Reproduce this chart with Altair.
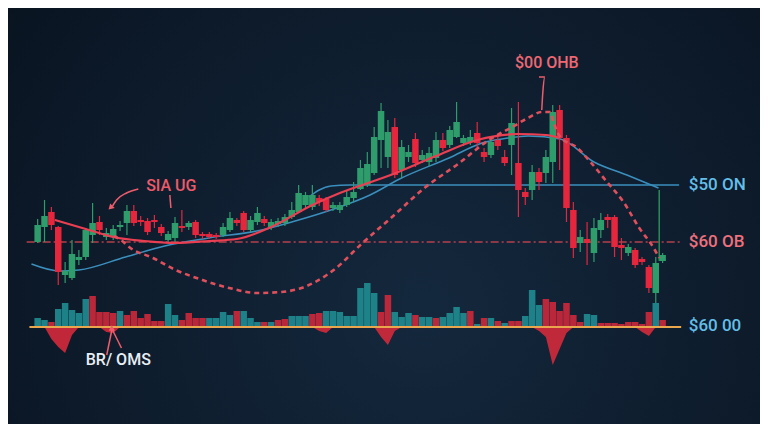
import altair as alt
import pandas as pd

# ---------------- data (price units, day index) ----------------
opens = [208, 223, 238, 223, 175, 172, 190, 193, 215, 228,
         213, 213, 223, 227, 239, 230, 229, 230, 223, 210,
         212, 224, 223, 228, 216, 216, 215, 215, 220, 230,
         237, 220, 228, 231, 223, 226, 227, 233, 238, 245,
         243, 252, 251, 242, 240, 245, 252, 261, 265, 277,
         310, 293, 323, 280, 293, 311, 290, 288, 292, 310,
         305, 313, 307, 308, 317, 298, 295, 310, 293, 305,
         287, 258, 260, 278, 277, 288, 340, 312, 240, 207,
         211, 197, 220, 233, 233, 205, 197, 200, 191, 183,
         157, 189]
closes = [225, 234, 225, 178, 179, 196, 193, 220, 227, 220,
          217, 221, 225, 239, 227, 228, 218, 228, 217, 216,
          227, 222, 227, 215, 214, 213, 213, 223, 232, 227,
          220, 230, 237, 227, 228, 229, 233, 240, 257, 255,
          255, 248, 240, 245, 245, 253, 258, 282, 286, 313,
          339, 318, 275, 303, 298, 287, 295, 297, 310, 302,
          320, 328, 312, 313, 307, 293, 308, 304, 287, 327,
          260, 253, 278, 268, 293, 338, 312, 242, 202, 213,
          207, 222, 230, 230, 203, 202, 203, 185, 188, 162,
          187, 195]
highs = [231, 250, 243, 224, 188, 210, 200, 222, 247, 234,
         222, 225, 229, 245, 245, 234, 232, 235, 226, 219,
         233, 240, 229, 230, 218, 218, 217, 227, 238, 232,
         239, 234, 243, 234, 231, 232, 236, 248, 265, 258,
         265, 255, 253, 248, 248, 260, 268, 290, 298, 323,
         347, 330, 332, 310, 305, 317, 300, 303, 318, 317,
         324, 348, 315, 320, 328, 302, 314, 314, 300, 342,
         348, 262, 285, 282, 300, 345, 345, 315, 248, 220,
         228, 232, 237, 236, 235, 212, 206, 202, 193, 185,
         193, 197]
lows = [207, 208, 220, 165, 167, 170, 185, 190, 207, 215,
        210, 210, 219, 215, 224, 224, 215, 222, 214, 207,
        208, 218, 220, 212, 211, 211, 211, 213, 218, 224,
        218, 218, 225, 224, 220, 223, 224, 231, 237, 242,
        240, 244, 238, 239, 237, 243, 248, 260, 263, 275,
        282, 282, 272, 272, 288, 283, 287, 284, 288, 299,
        302, 312, 304, 305, 300, 288, 292, 300, 284, 275,
        233, 245, 250, 260, 267, 267, 280, 228, 192, 198,
        185, 188, 212, 222, 193, 190, 194, 182, 185, 157,
        147, 187]

volume = [9, 7, 5, 18, 24, 17, 14, 28, 31, 15,
          15, 14, 16, 12, 16, 9, 13, 6, 6, 23,
          12, 7, 14, 9, 9, 9, 9, 15, 12, 16,
          16, 9, 5, 5, 5, 7, 8, 11, 11, 11,
          13, 14, 16, 16, 15, 11, 11, 39, 44, 34,
          15, 32, 15, 10, 14, 12, 10, 10, 9, 10,
          14, 20, 14, 16, 3, 9, 9, 6, 4, 6,
          6, 11, 37, 22, 28, 25, 16, 24, 12, 5,
          13, 12, 4, 4, 4, 3, 5, 5, 3, 15,
          24, 7]
volume_side = list("TTRTTTTTRR" "RRTRRRRRRT" "TRRRRTTTTR" "TTTRTRRTTT"
                   "RRTTTTTTTT" "RRTTTRTTRT" "TTTRTRTRTR" "RTTTRRRRRR"
                   "TTRRRRRRRR" "TR")
sell_spike = [0, 0, -12, -20, -26, -8, 0, 0, 0, 0,
              -5, -6, 0, 0, 0, 0, 0, 0, 0, 0,
              0, 0, 0, 0, 0, 0, 0, 0, 0, 0,
              0, 0, 0, 0, 0, 0, 0, 0, 0, 0,
              0, -4, -6, 0, 0, 0, 0, 0, 0, 0,
              -10, -18, -4, 0, 0, 0, 0, 0, 0, 0,
              0, 0, 0, 0, 0, 0, 0, 0, 0, 0,
              0, 0, 0, -4, -10, -38, -22, -6, 0, 0,
              0, 0, 0, 0, 0, 0, 0, 0, -5, -9,
              0, 0]

# moving averages / overlays
ma_red_day = [2.5, 7, 11, 15.5, 20, 25, 29, 34, 40, 44, 51, 58, 64, 70, 74, 76]
ma_red_val = [230, 221, 213, 209, 207, 209, 211, 223, 245, 257, 274, 294, 310, 316, 315, 312]

ma_blue_day = [-0.9, 3.2, 6, 12.8, 18.5, 24.9, 32.6, 37.5, 42.7, 48.4, 52.7, 59.9, 64.7,
               68.5, 71.4, 76.1, 81, 85.8, 90.4]
ma_blue_val = [186, 179, 180, 193, 204, 212, 220, 229, 240, 255, 271, 292, 307,
               312, 314, 311, 288, 275, 262]

level_blue_day = [39.5, 41, 42.7, 45.5, 93.4]
level_blue_val = [253, 260, 264, 265, 265]

wave_day = [11.1, 12.1, 13.5, 16.8, 20.1, 24, 27.9, 31.9, 35.5, 38.4, 43.1, 47.3, 51.6,
            56.5, 61.4, 65.7, 69.1, 71.4, 73.4, 74.6, 75.1, 76, 78.6, 80.5, 82.9, 85.3,
            87.6, 89.7, 90.5]
wave_val = [214, 210, 202, 192, 180, 170, 162, 157, 158, 162, 180, 207, 233,
            263, 287, 310, 323, 332, 338, 338, 328, 314, 302, 288, 268, 248,
            222, 202, 192]

red_level = 208
red_level_span = [-1.6, 93.8]
green_drop_day = 90.5
green_drop = [260, 189]
base_span = [-1.2, 93.7]

# annotations
labels = ["$50 ON", "$60 OB", "$60 00"]
label_day = [94.8, 94.8, 94.8]
label_val = [265, 208, 124]
label_color = ["#63bfe8", "#f0707c", "#63bfe8"]

notes = ["SIA UG", "$00 OHB", "BR/ OMS"]
note_day = [15.8, 69.5, 7.0]
note_val = [264, 387, 90]
note_color = ["#ee5a69", "#ef6872", "#e9eef5"]

arrow_seg = ["a", "a", "a", "a", "b", "b", "c", "c", "c", "c", "d", "d", "e", "e"]
arrow_day = [14.66, 12.93, 11.49, 10.9, 19.25, 19.4, 73.0, 73.85, 73.56, 73.4,
             10.06, 10.8, 12.2, 10.9]
arrow_val = [261, 257, 250, 244, 255, 242, 373, 373, 358, 340, 95, 120, 102, 120]
head_day = [10.7, 10.8]
head_val = [243, 121]
head_angle = [225, 0]

# ---------------- styling ----------------
GREEN = "#2f9d6b"
RED = "#e5263d"
TEAL = "#1f8a90"
VRED = "#c9283b"
BLUE = "#3b8fbd"
FONT = "Roboto, Liberation Sans, sans-serif"

xs = alt.Scale(domain=[-3.59, 104.45], nice=False, zero=False)
ps = alt.Scale(domain=[26, 442], nice=False, zero=False)
vs = alt.Scale(domain=[-97, 319], nice=False, zero=False)


def X(f="day"):
    return alt.X(f"{f}:Q", scale=xs, axis=None)


def PY(f):
    return alt.Y(f"{f}:Q", scale=ps, axis=None)


def VY(f):
    return alt.Y(f"{f}:Q", scale=vs, axis=None)


n = len(opens)
candles = pd.DataFrame({"day": list(range(n)), "open": opens, "close": closes,
                        "high": highs, "low": lows})
candles["dir"] = ["up" if c >= o else "down" for o, c in zip(opens, closes)]

vol = pd.DataFrame({"day": list(range(n)), "vol": volume,
                    "side": ["buy" if s == "T" else "sell" for s in volume_side],
                    "spike": sell_spike})

dir_color = alt.Color("dir:N", scale=alt.Scale(domain=["up", "down"], range=[GREEN, RED]), legend=None)

bg = alt.Chart(pd.DataFrame({"a": [0]})).mark_rect(
    color=alt.RadialGradient(
        gradient="radial", x1=0.55, y1=0.62, r1=0.0, x2=0.55, y2=0.62, r2=0.78,
        stops=[alt.GradientStop(offset=0, color="#14283d"),
               alt.GradientStop(offset=1, color="#08111d")])
).encode(x=alt.value(0), x2=alt.value(752), y=alt.value(0), y2=alt.value(416))

vol_bars = alt.Chart(vol).mark_bar(size=6.5, opacity=0.92).encode(
    x=X(), y=VY("vol"), y2=alt.datum(0),
    color=alt.Color("side:N", scale=alt.Scale(domain=["buy", "sell"], range=[TEAL, VRED]), legend=None))

spikes = alt.Chart(vol).mark_area(color="#d42a3b", opacity=0.9, interpolate="linear").encode(
    x=X(), y=VY("spike"), y2=alt.datum(0))

base = alt.Chart(pd.DataFrame({"x0": [base_span[0]], "x1": [base_span[1]], "v": [0]})).mark_rule(
    color="#e9a64c", strokeWidth=2).encode(x=X("x0"), x2="x1:Q", y=VY("v"))

red_line = alt.Chart(pd.DataFrame({"x0": [red_level_span[0]], "x1": [red_level_span[1]],
                                   "p": [red_level]})).mark_rule(
    color="#c8434f", strokeWidth=1.6, strokeDash=[8, 3, 2, 3], opacity=0.9).encode(
    x=X("x0"), x2="x1:Q", y=PY("p"))

blue_ma = alt.Chart(pd.DataFrame({"day": ma_blue_day, "p": ma_blue_val})).mark_line(
    color=BLUE, strokeWidth=1.5, interpolate="monotone").encode(x=X(), y=PY("p"))

blue_level = alt.Chart(pd.DataFrame({"day": level_blue_day, "p": level_blue_val})).mark_line(
    color=BLUE, strokeWidth=1.5, interpolate="monotone").encode(x=X(), y=PY("p"))

green_drop_df = pd.DataFrame({"day": [green_drop_day], "p0": [green_drop[0]], "p1": [green_drop[1]]})
green_rule = alt.Chart(green_drop_df).mark_rule(color="#2f9d5b", strokeWidth=1.3).encode(
    x=X(), y=PY("p0"), y2="p1:Q")

wicks = alt.Chart(candles).mark_rule(strokeWidth=1.2).encode(
    x=X(), y=PY("low"), y2="high:Q", color=dir_color)
bodies = alt.Chart(candles).mark_bar(size=6.5).encode(
    x=X(), y=PY("open"), y2="close:Q", color=dir_color)

red_ma = alt.Chart(pd.DataFrame({"day": ma_red_day, "p": ma_red_val})).mark_line(
    color="#ea3f52", strokeWidth=2.2, interpolate="monotone").encode(x=X(), y=PY("p"))

wave = alt.Chart(pd.DataFrame({"day": wave_day, "p": wave_val})).mark_line(
    color="#e0505c", strokeWidth=2.6, strokeDash=[5, 4], interpolate="monotone").encode(
    x=X(), y=PY("p"))

arrows = alt.Chart(pd.DataFrame({"seg": arrow_seg, "day": arrow_day, "p": arrow_val,
                                 "ord": list(range(len(arrow_day)))})).mark_line(
    color="#ee5d6b", strokeWidth=1.5, interpolate="monotone").encode(
    x=X(), y=PY("p"), detail="seg:N", order="ord:Q")

heads = alt.Chart(pd.DataFrame({"day": head_day, "p": head_val, "ang": head_angle})).mark_point(
    shape="triangle", filled=True, size=40, color="#ee5d6b", opacity=1).encode(
    x=X(), y=PY("p"), angle=alt.Angle("ang:Q", scale=None))

label_df = pd.DataFrame({"day": label_day, "p": label_val, "t": labels, "c": label_color})
label_layer = alt.Chart(label_df).mark_text(
    align="left", baseline="middle", fontSize=17, font=FONT, fontWeight=500).encode(
    x=X(), y=PY("p"), text="t:N", color=alt.Color("c:N", scale=None))

note_df = pd.DataFrame({"day": note_day, "p": note_val, "t": notes, "c": note_color})
note_layer = alt.Chart(note_df).mark_text(
    align="left", baseline="middle", fontSize=16, font=FONT, fontWeight=500).encode(
    x=X(), y=PY("p"), text="t:N", color=alt.Color("c:N", scale=None))

chart = alt.layer(
    bg, vol_bars, spikes, base, red_line, blue_ma, blue_level, wicks, bodies,
    green_rule, red_ma, wave, arrows, heads, label_layer, note_layer
).resolve_scale(
    y="independent", color="independent"
).properties(
    width=752, height=416, padding=0, background="#0b1524",
    autosize=alt.AutoSizeParams(type="fit", contains="padding")
).configure_view(strokeWidth=0)

chart.save("out.html", embed_options={"renderer": "svg", "actions": False})
